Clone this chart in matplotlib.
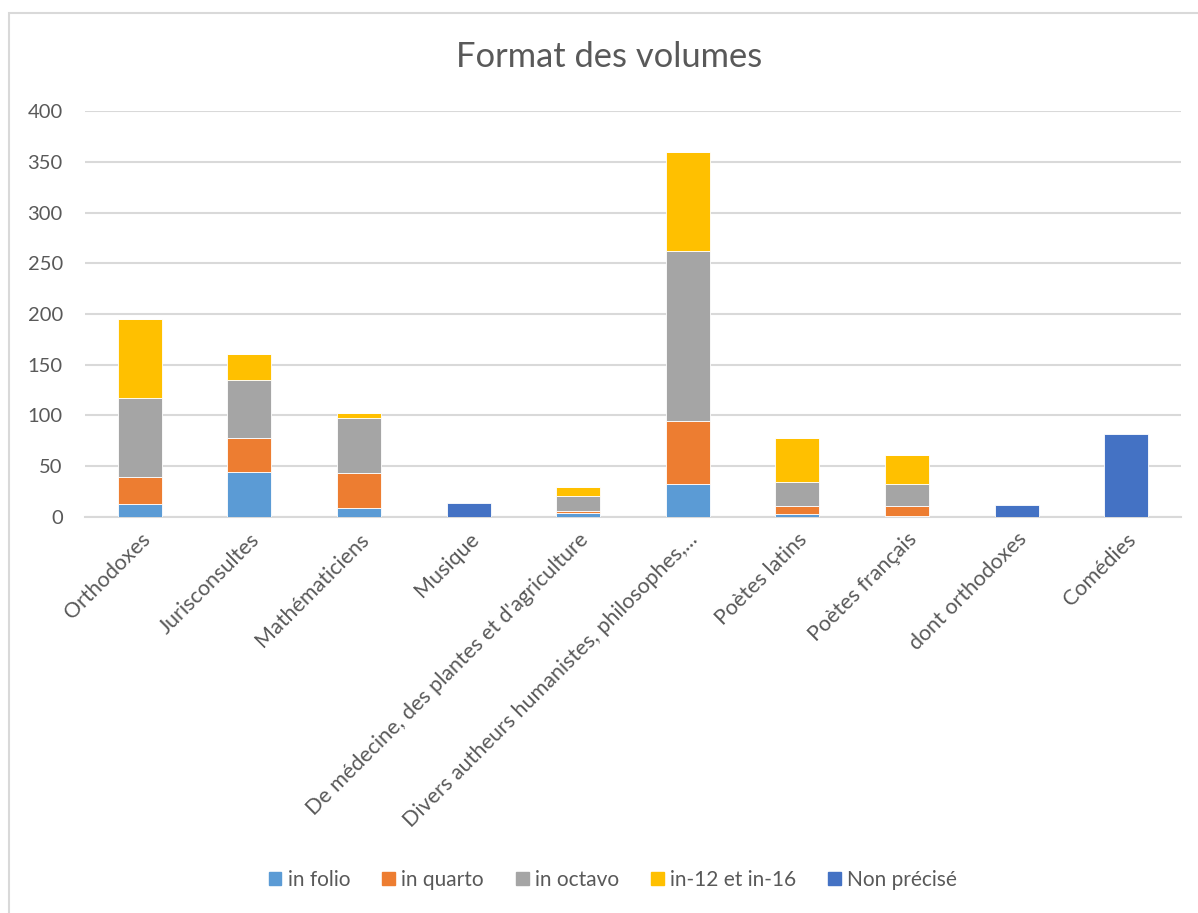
import matplotlib
matplotlib.use("Agg")
import matplotlib.pyplot as plt
import matplotlib.patches as mpatches
import numpy as np

categories = ["Orthodoxes", "Jurisconsultes", "Mathématiciens", "Musique",
              "De médecine, des plantes et d'agriculture",
              "Divers autheurs humanistes, philosophes,...",
              "Poètes latins", "Poètes français", "dont orthodoxes", "Comédies"]
in_folio = [13, 44, 9, 0, 4, 32, 3, 1, 0, 0]
in_quarto = [26, 34, 34, 0, 2, 62, 8, 10, 0, 0]
in_octavo = [78, 57, 54, 0, 14, 168, 23, 21, 0, 0]
in_12_16 = [78, 26, 5, 0, 9, 98, 44, 29, 0, 0]
non_precise = [0, 0, 0, 14, 0, 0, 0, 0, 12, 82]

series = [("in folio", in_folio, "#5B9BD5"),
          ("in quarto", in_quarto, "#ED7D31"),
          ("in octavo", in_octavo, "#A5A5A5"),
          ("in-12 et in-16", in_12_16, "#FFC000"),
          ("Non précisé", non_precise, "#4472C4")]

plt.rcParams['font.family'] = ['Lato', 'DejaVu Sans']
W, H = 1198, 913
fig = plt.figure(figsize=(W / 100, H / 100), dpi=100)
ax = fig.add_axes([85 / W, 1 - 516.7 / H, (1181 - 85) / W, (516.7 - 111.3) / H])

x = np.arange(len(categories))
bottom = np.zeros(len(categories))
handles = []
for name, vals, col in series:
    v = np.array(vals, dtype=float)
    ax.bar(x, v, width=0.4, bottom=bottom, color=col, edgecolor="white",
           linewidth=0.6, zorder=3)
    bottom += v
    handles.append(mpatches.Patch(color=col, label=name))

ax.set_xlim(-0.5, len(categories) - 0.5)
ax.set_ylim(0, 400)
ax.set_yticks(range(0, 401, 50))
ax.grid(axis="y", color="#D9D9D9", linewidth=1.5, zorder=0)
for s in ["top", "right", "left"]:
    ax.spines[s].set_visible(False)
ax.spines["bottom"].set_color("#D9D9D9")
ax.spines["bottom"].set_linewidth(1.5)
ax.tick_params(axis="both", length=0, colors="#595959", labelsize=14.5)
ax.tick_params(axis="y", pad=16)
ax.set_xticks(x)
ax.set_xticklabels(categories, rotation=45, ha="right", va="top",
                   rotation_mode="anchor", fontsize=15.5)
ax.tick_params(axis="x", pad=9)

fig.text(0.5 * (457 + 762) / W, 1 - 57 / H, "Format des volumes", ha="center",
         va="center", fontsize=24.8, color="#595959")

leg = fig.legend(handles=handles, loc="center", bbox_to_anchor=(613 / W, 1 - 880 / H),
                 ncol=5, frameon=False, fontsize=15.0, handlelength=0.6,
                 handleheight=0.6, handletextpad=0.3, columnspacing=1.55)
for t in leg.get_texts():
    t.set_color("#595959")

border = mpatches.Rectangle((8.5 / W, -0.1), 1.2, 1 - 13.5 / H + 0.1,
                            transform=fig.transFigure, fill=False,
                            edgecolor="#D9D9D9", linewidth=1.5)
fig.patches.append(border)

fig.savefig("out.png", dpi=100, facecolor="white")
